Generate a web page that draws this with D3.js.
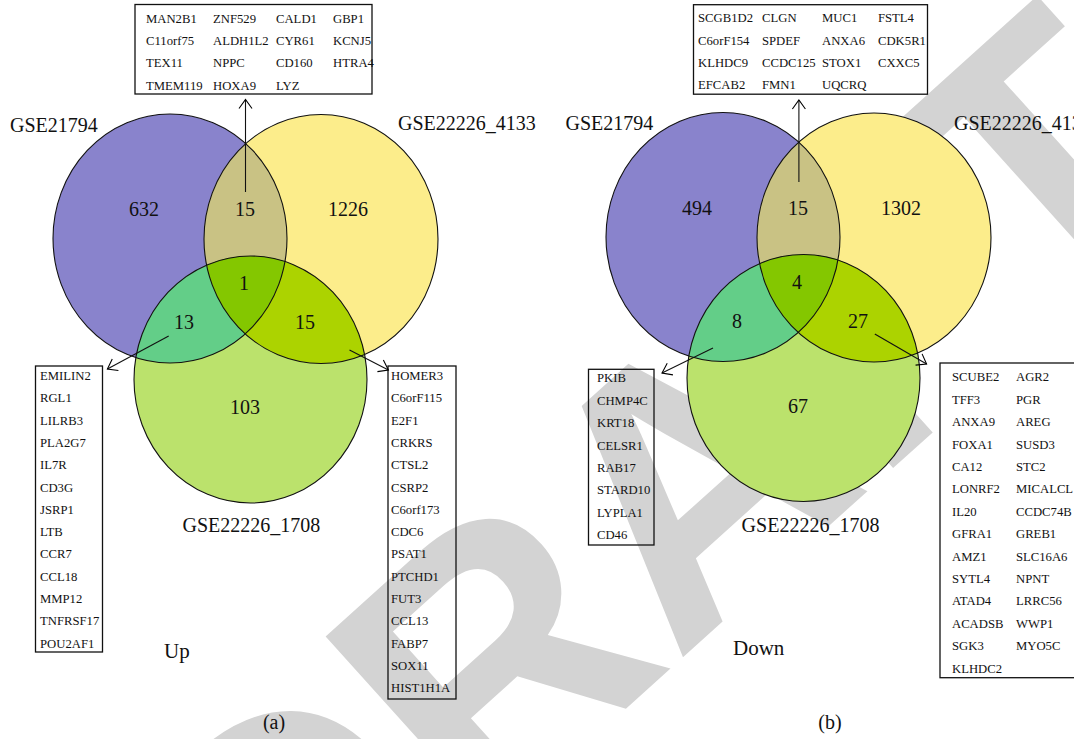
<!DOCTYPE html>
<html><head><meta charset="utf-8">
<script src="https://cdn.jsdelivr.net/npm/d3@7"></script>
<style>html,body{margin:0;padding:0;background:#fff;overflow:hidden}</style>
</head><body><svg id="chart" width="1074" height="739"></svg>
<script>
// ---- data ----
const setNames = ["GSE21794", "GSE22226_4133", "GSE22226_1708"];
const regionKeys = ["A", "AB", "B", "ABC", "AC", "BC", "C"];
const upCounts = [632, 15, 1226, 1, 13, 15, 103];
const downCounts = [494, 15, 1302, 4, 8, 27, 67];
const panelTitles = ["Up", "Down"];
const panelTags = ["(a)", "(b)"];

const upGenesAB = ["MAN2B1", "ZNF529", "CALD1", "GBP1", "C11orf75", "ALDH1L2", "CYR61", "KCNJ5",
  "TEX11", "NPPC", "CD160", "HTRA4", "TMEM119", "HOXA9", "LYZ"];
const upGenesAC = ["EMILIN2", "RGL1", "LILRB3", "PLA2G7", "IL7R", "CD3G", "JSRP1", "LTB", "CCR7",
  "CCL18", "MMP12", "TNFRSF17", "POU2AF1"];
const upGenesBC = ["HOMER3", "C6orF115", "E2F1", "CRKRS", "CTSL2", "CSRP2", "C6orf173", "CDC6",
  "PSAT1", "PTCHD1", "FUT3", "CCL13", "FABP7", "SOX11", "HIST1H1A"];
const downGenesAB = ["SCGB1D2", "CLGN", "MUC1", "FSTL4", "C6orF154", "SPDEF", "ANXA6", "CDK5R1",
  "KLHDC9", "CCDC125", "STOX1", "CXXC5", "EFCAB2", "FMN1", "UQCRQ"];
const downGenesAC = ["PKIB", "CHMP4C", "KRT18", "CELSR1", "RAB17", "STARD10", "LYPLA1", "CD46"];
const downGenesBC = ["SCUBE2", "TFF3", "ANXA9", "FOXA1", "CA12", "LONRF2", "IL20", "GFRA1", "AMZ1",
  "SYTL4", "ATAD4", "ACADSB", "SGK3", "KLHDC2",
  "AGR2", "PGR", "AREG", "SUSD3", "STC2", "MICALCL", "CCDC74B", "GREB1", "SLC16A6", "NPNT",
  "LRRC56", "WWP1", "MYO5C"];

// ---- styling ----
const SERIF = "'Liberation Serif', 'Times New Roman', serif";
const setColors = d3.scaleOrdinal().domain(["A", "B", "C"]).range(["#8983cc", "#fced8b", "#bbe26c"]);
const lensColors = d3.scaleOrdinal().domain(["AB", "AC", "BC", "ABC"])
  .range(["#c9c284", "#63ce88", "#acd300", "#84c700"]);

const svg = d3.select("#chart");
svg.append("rect").attr("width", 1074).attr("height", 739).attr("fill", "#fff");

// background watermark
svg.append("text")
  .attr("x", 279).attr("y", 1021)
  .attr("transform", "rotate(-42,279,1021)")
  .attr("font-family", "'Liberation Sans', Arial, sans-serif")
  .attr("font-weight", "bold")
  .attr("font-size", 370)
  .attr("fill", "#d3d3d3")
  .text("DRAFT");

const defs = svg.append("defs");
defs.append("marker").attr("id", "openArrow")
  .attr("viewBox", "-12 -8 14 16").attr("refX", 0).attr("refY", 0)
  .attr("markerWidth", 14).attr("markerHeight", 16).attr("markerUnits", "userSpaceOnUse")
  .attr("orient", "auto")
  .append("path").attr("d", "M-9,-6.5L0,0L-9,6.5")
  .attr("fill", "none").attr("stroke", "#000").attr("stroke-width", 1.1);

// ellipse geometry shared by both panels (panel-local coordinates)
const ellipses = {
  A: {cx: 170, cy: 238.5, rx: 117, ry: 124.5},
  B: {cx: 321, cy: 239, rx: 117, ry: 124.5},
  C: {cx: 250.5, cy: 379.5, rx: 116.5, ry: 123.5}
};
const regionAnchor = {
  A: [144, 216], AB: [245, 216], B: [348, 216], ABC: [244, 290],
  AC: [184, 329], BC: [305, 329], C: [245, 414]
};

const panels = [
  {
    id: "a", dx: 0, dy: 0, counts: upCounts, title: panelTitles[0], tag: panelTags[0],
    titlePos: [164, 658], tagPos: [274, 729],
    labels: [[10, 132], [398, 130], [182.5, 532]],
    boxes: [
      {genes: upGenesAB, x: 135, y: 4.5, w: 237, h: 89.5, cols: [146, 213, 276, 333], rows: 4, base: 22.5, step: 22.4, order: "row"},
      {genes: upGenesAC, x: 35.5, y: 366, w: 67, h: 286, cols: [40], rows: 13, base: 380, step: 22.3, order: "col"},
      {genes: upGenesBC, x: 388, y: 366, w: 68, h: 333, cols: [391], rows: 15, base: 380, step: 22.3, order: "col"}
    ],
    arrows: [[[245.5, 192], [245.5, 99.5]], [[168.7, 336], [107.4, 369]], [[349.5, 350], [388.4, 370]]]
  },
  {
    id: "b", dx: 553, dy: -1.5, counts: downCounts, title: panelTitles[1], tag: panelTags[1],
    titlePos: [733, 655], tagPos: [830, 729],
    labels: [[565.5, 130], [954, 130], [741.6, 532]],
    boxes: [
      {genes: downGenesAB, x: 693.5, y: 4.7, w: 234, h: 89.5, cols: [698, 762, 822, 878], rows: 4, base: 22.3, step: 22.3, order: "row"},
      {genes: downGenesAC, x: 588.5, y: 369.3, w: 65.5, h: 175.7, cols: [597], rows: 8, base: 382.3, step: 22.4, order: "col"},
      {genes: downGenesBC, x: 940, y: 363, w: 150, h: 314.7, cols: [952, 1016], rows: 14, base: 381.3, step: 22.4, order: "col"}
    ],
    arrows: [[[798.9, 182], [798.9, 100]], [[713, 348], [662, 373]], [[874.8, 334], [926.6, 364]]]
  }
];

panels.forEach(p => {
  const g = svg.append("g").attr("transform", `translate(${p.dx},${p.dy})`);
  const gd = g.append("defs");
  ["A", "B"].forEach(k => {
    const e = ellipses[k];
    gd.append("clipPath").attr("id", `clip-${p.id}-${k}`)
      .append("ellipse").attr("cx", e.cx).attr("cy", e.cy).attr("rx", e.rx).attr("ry", e.ry);
  });
  const ell = (sel, k) => sel.append("ellipse")
    .attr("cx", ellipses[k].cx).attr("cy", ellipses[k].cy)
    .attr("rx", ellipses[k].rx).attr("ry", ellipses[k].ry);

  // base set fills
  ["A", "B", "C"].forEach(k => ell(g, k).attr("fill", setColors(k)));
  // pairwise overlaps
  ell(g.append("g").attr("clip-path", `url(#clip-${p.id}-A)`), "B").attr("fill", lensColors("AB"));
  ell(g.append("g").attr("clip-path", `url(#clip-${p.id}-A)`), "C").attr("fill", lensColors("AC"));
  ell(g.append("g").attr("clip-path", `url(#clip-${p.id}-B)`), "C").attr("fill", lensColors("BC"));
  // triple overlap
  ell(g.append("g").attr("clip-path", `url(#clip-${p.id}-A)`)
    .append("g").attr("clip-path", `url(#clip-${p.id}-B)`), "C").attr("fill", lensColors("ABC"));
  // outlines
  ["A", "B", "C"].forEach(k => ell(g, k).attr("fill", "none").attr("stroke", "#111").attr("stroke-width", 1.1));

  // region counts
  g.selectAll("text.count").data(regionKeys).join("text")
    .attr("class", "count")
    .attr("x", k => regionAnchor[k][0]).attr("y", k => regionAnchor[k][1])
    .attr("text-anchor", "middle")
    .attr("font-family", SERIF).attr("font-size", 20).attr("fill", "#111")
    .text((k, i) => p.counts[i]);
});

panels.forEach(p => {
  // set names
  svg.selectAll(null).data(setNames).join("text")
    .attr("x", (d, i) => p.labels[i][0]).attr("y", (d, i) => p.labels[i][1])
    .attr("font-family", SERIF).attr("font-size", 20).attr("fill", "#111")
    .text(d => d);

  // panel title and tag
  svg.append("text").attr("x", p.titlePos[0]).attr("y", p.titlePos[1])
    .attr("font-family", SERIF).attr("font-size", 21).attr("fill", "#111").text(p.title);
  svg.append("text").attr("x", p.tagPos[0]).attr("y", p.tagPos[1]).attr("text-anchor", "middle")
    .attr("font-family", SERIF).attr("font-size", 20).attr("fill", "#111").text(p.tag);

  // gene boxes
  p.boxes.forEach(b => {
    svg.append("rect").attr("x", b.x).attr("y", b.y).attr("width", b.w).attr("height", b.h)
      .attr("fill", "none").attr("stroke", "#111").attr("stroke-width", 1.3);
    const nCols = b.cols.length;
    svg.selectAll(null).data(b.genes).join("text")
      .attr("x", (d, i) => b.cols[b.order === "row" ? i % nCols : Math.floor(i / b.rows)])
      .attr("y", (d, i) => b.base + b.step * (b.order === "row" ? Math.floor(i / nCols) : i % b.rows))
      .attr("font-family", SERIF).attr("font-size", 12.7).attr("fill", "#111")
      .text(d => d);
  });

  // callout arrows
  p.arrows.forEach(a => {
    svg.append("path").attr("d", d3.line()(a))
      .attr("fill", "none").attr("stroke", "#111").attr("stroke-width", 1.1)
      .attr("marker-end", "url(#openArrow)");
  });
});
</script>
</body></html>
